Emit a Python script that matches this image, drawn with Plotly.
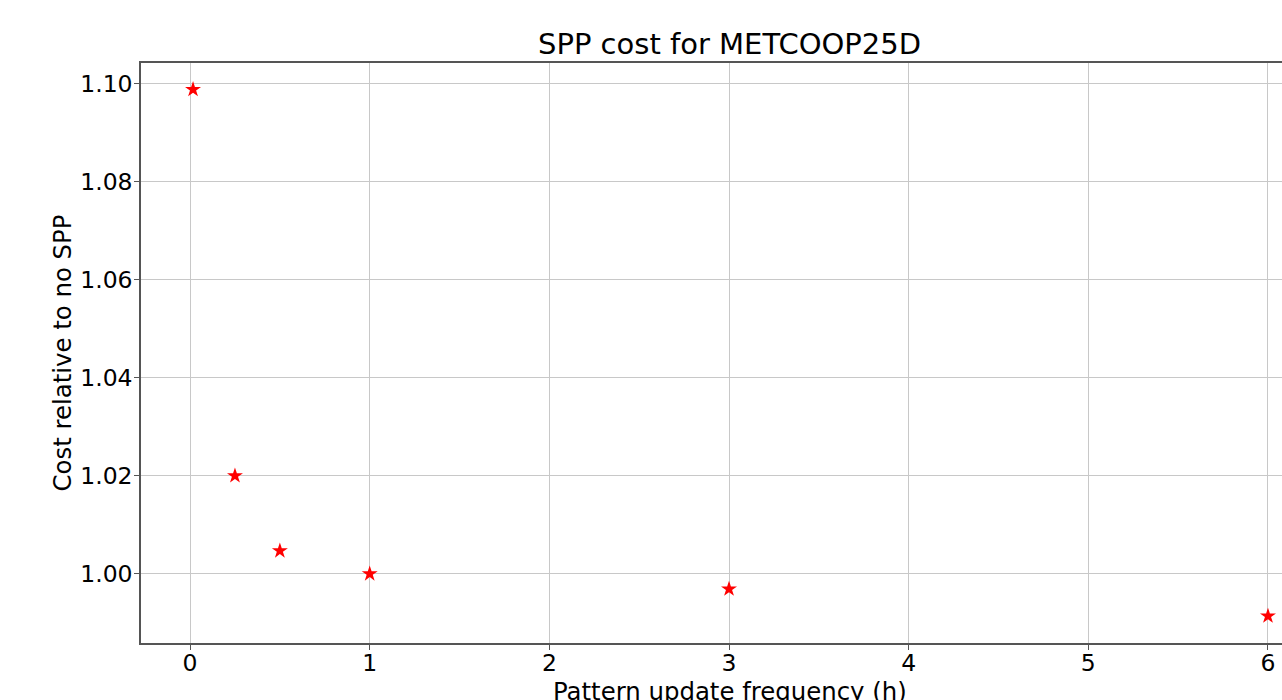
import plotly.graph_objects as go

freq_h = [1/60, 0.25, 0.5, 1, 3, 6]
rel_cost = [1.0988, 1.0200, 1.0047, 1.0000, 0.9969, 0.9914]
x_ticks = [0, 1, 2, 3, 4, 5, 6]
y_ticks = [1.00, 1.02, 1.04, 1.06, 1.08, 1.10]
y_tick_labels = ["1.00", "1.02", "1.04", "1.06", "1.08", "1.10"]

FONT = "DejaVu Sans"

fig = go.Figure()
fig.add_trace(go.Scatter(
    x=freq_h, y=rel_cost, mode="markers",
    marker=dict(symbol="star", color="red", size=12, line=dict(width=0)),
    showlegend=False,
))

fig.update_layout(
    width=1282, height=700,
    margin=dict(l=141, r=0, t=63, b=57),
    paper_bgcolor="white", plot_bgcolor="white",
    font=dict(family=FONT, color="black", size=23.5),
)
fig.update_xaxes(
    range=[-0.273, 6.078], tickvals=x_ticks, ticktext=[str(t) for t in x_ticks],
    showgrid=True, gridcolor="#c8c8c8", gridwidth=1,
    showline=True, linecolor="#555555", linewidth=1.5, mirror=True,
    ticks="outside", ticklen=5, tickcolor="#555555",
    tickfont=dict(size=23.5, family=FONT), zeroline=False,
    ticklabelstandoff=-7,
)
fig.update_yaxes(
    range=[0.9859, 1.1042], tickvals=y_ticks, ticktext=y_tick_labels,
    showgrid=True, gridcolor="#c8c8c8", gridwidth=1,
    showline=True, linecolor="#555555", linewidth=1.5, mirror=False,
    ticks="outside", ticklen=5, tickcolor="#555555",
    tickfont=dict(size=23.5, family=FONT), zeroline=False,
    ticklabelstandoff=-3,
    title=dict(text="Cost relative to no SPP", font=dict(size=24.4, family=FONT), standoff=2),
)

fig.add_annotation(
    text="SPP cost for METCOOP25D", xref="paper", yref="paper",
    x=0.516, y=1, xanchor="center", yanchor="bottom", yshift=0,
    showarrow=False, font=dict(size=29, family=FONT, color="black"),
)
fig.add_annotation(
    text="Pattern update frequency (h)", xref="paper", yref="paper",
    x=0.516, y=0, xanchor="center", yanchor="top", yshift=-32,
    showarrow=False, font=dict(size=24.4, family=FONT, color="black"),
)

fig.write_html("out.html")
